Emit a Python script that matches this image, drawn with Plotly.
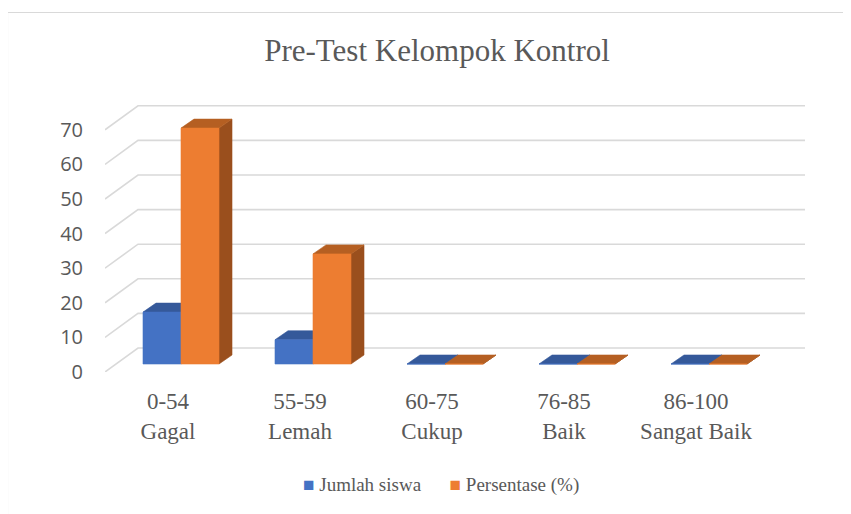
import plotly.graph_objects as go

# ---------------- data ----------------
categories = ["0-54<br>Gagal", "55-59<br>Lemah", "60-75<br>Cukup", "76-85<br>Baik", "86-100<br>Sangat Baik"]
jumlah_siswa = [15, 7, 0, 0, 0]
persentase = [68.18, 31.82, 0, 0, 0]
y_ticks = [0, 10, 20, 30, 40, 50, 60, 70]
series_names = ["Jumlah siswa", "Persentase (%)"]
title_text = "Pre-Test Kelompok Kontrol"

# ---------------- geometry (pixels -> data units) ----------------
W, H = 851, 514
OFF = 8                                   # page body margin in the browser
PL, PR, PT, PB = 105 - OFF, 805 - OFF, 95 - OFF, 372 - OFF   # plot area, figure pixels
PX_PER_CAT = 132.0
PX_PER_UNIT = 3.46
FIRST_CAT_PX = 168 - OFF
x_range = [(PL - FIRST_CAT_PX) / PX_PER_CAT, (PR - FIRST_CAT_PX) / PX_PER_CAT]
y_range = [0, (PB - PT) / PX_PER_UNIT]


def dx(px):
    return px / PX_PER_CAT


def dy(px):
    return px / PX_PER_UNIT


BAR_W = dx(38)
FRONT_DX, FRONT_DY = dx(13), dy(8)        # bar front plane offset from floor front
DEPTH_DX, DEPTH_DY = dx(13), dy(9)        # bar depth
WALL_DX, WALL_DY = dx(33), dy(24)         # back wall offset

SERIF = "Liberation Serif"
SANS = "Open Sans"
TXT = "#595959"
GRID = "#D9D9D9"

colors = {
    "front": ["#4472C4", "#ED7D31"],
    "top": ["#35599A", "#B55F22"],
    "side": ["#2E4F8A", "#9A4F1D"],
}

fig = go.Figure()

# back wall gridlines + left side wall lines
gx, gy = [], []
for v in y_ticks:
    gx += [x_range[0], x_range[0] + WALL_DX, x_range[1], None]
    gy += [v, v + WALL_DY, v + WALL_DY, None]
fig.add_trace(go.Scatter(x=gx, y=gy, mode="lines", line=dict(color=GRID, width=1.6),
                         hoverinfo="skip", showlegend=False))


def polys(series, s_idx):
    side_x, side_y, top_x, top_y, fr_x, fr_y = [], [], [], [], [], []
    for i, v in enumerate(series):
        c = i + FRONT_DX
        xl = c - BAR_W if s_idx == 0 else c
        xr = xl + BAR_W
        b = FRONT_DY
        t = b + v
        fr_x += [xl, xr, xr, xl, xl, None]
        fr_y += [b, b, t, t, b, None]
        top_x += [xl, xr, xr + DEPTH_DX, xl + DEPTH_DX, xl, None]
        top_y += [t, t, t + DEPTH_DY, t + DEPTH_DY, t, None]
        side_x += [xr, xr + DEPTH_DX, xr + DEPTH_DX, xr, xr, None]
        side_y += [b, b + DEPTH_DY, t + DEPTH_DY, t, b, None]
    return (side_x, side_y), (top_x, top_y), (fr_x, fr_y)


for s_idx, series in enumerate([jumlah_siswa, persentase]):
    side, top, front = polys(series, s_idx)
    for (px_, py_), key in [(side, "side"), (top, "top"), (front, "front")]:
        col = colors[key][s_idx]
        fig.add_trace(go.Scatter(x=px_, y=py_, mode="lines", fill="toself", fillcolor=col,
                                 line=dict(color=col, width=0.6), hoverinfo="skip",
                                 showlegend=False, name=series_names[s_idx]))


def px_to_paper_x(px):
    return (px - OFF - PL) / (PR - PL)


def px_to_paper_y(py):
    return (PB - (py - OFF)) / (PB - PT)


legend_text = (
    f"<span style='color:{colors['front'][0]}'>■</span> {series_names[0]}"
    f"      <span style='color:{colors['front'][1]}'>■</span> {series_names[1]}"
)

fig.update_layout(
    width=W, height=H,
    margin=dict(l=PL, r=W - PR, t=PT, b=H - PB, autoexpand=False),
    paper_bgcolor="white", plot_bgcolor="white",
    font=dict(family=SERIF, color=TXT),
    title=dict(text=title_text, x=(437 - OFF) / W, xanchor="center",
               y=1 - (50 - OFF) / H, yanchor="middle",
               font=dict(family=SERIF, size=31, color=TXT)),
    xaxis=dict(range=x_range, tickmode="array", tickvals=list(range(len(categories))),
               ticktext=categories, showgrid=False, zeroline=False, showline=False,
               tickfont=dict(family=SERIF, size=23, color=TXT), ticklabelstandoff=13,
               fixedrange=True),
    yaxis=dict(range=y_range, tickmode="array", tickvals=y_ticks, showgrid=False,
               zeroline=False, showline=False, tickfont=dict(family=SANS, size=20, color=TXT),
               ticklabelstandoff=21, fixedrange=True),
    showlegend=False,
    annotations=[dict(text=legend_text, xref="paper", yref="paper",
                      x=px_to_paper_x(441), y=px_to_paper_y(485), xanchor="center",
                      yanchor="middle", showarrow=False,
                      font=dict(family=SERIF, size=19, color=TXT))],
    shapes=[dict(type="rect", xref="paper", yref="paper",
                 x0=px_to_paper_x(7.5), y0=px_to_paper_y(540),
                 x1=px_to_paper_x(880), y1=px_to_paper_y(12.5),
                 line=dict(color="#D9D9D9", width=1.2), fillcolor="rgba(0,0,0,0)", layer="below")],
)

fig.write_html("out.html")
